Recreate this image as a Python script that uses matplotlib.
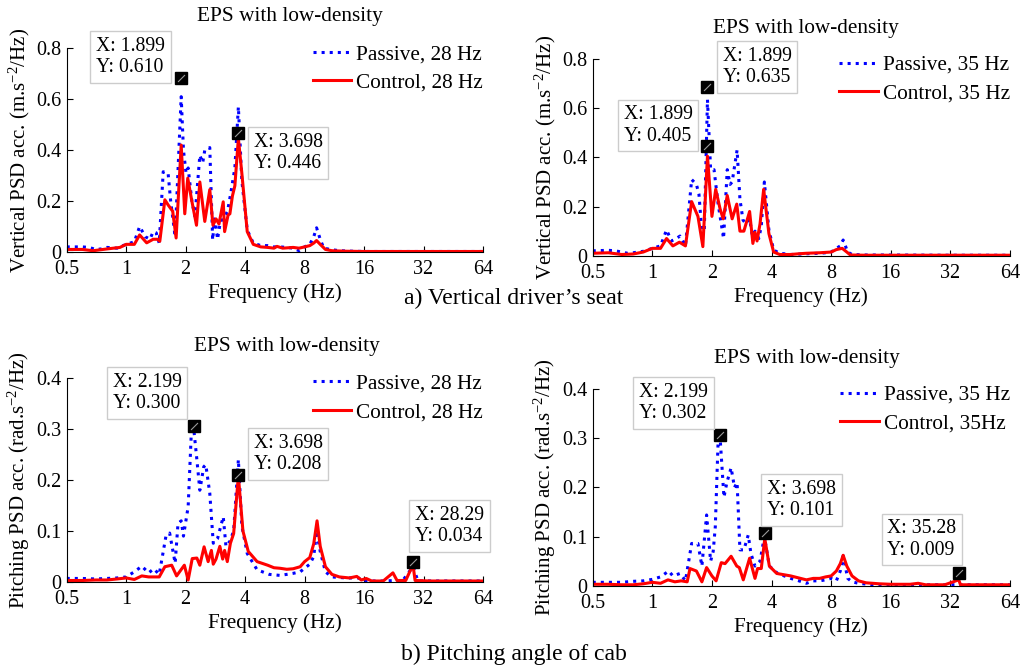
import matplotlib
matplotlib.use("Agg")
import matplotlib.pyplot as plt

plt.rcParams['font.family'] = ['Liberation Serif', 'DejaVu Serif']
plt.rcParams['mathtext.fontset'] = 'custom'
plt.rcParams['mathtext.rm'] = 'Liberation Serif'
plt.rcParams['mathtext.default'] = 'regular'

# ---- data ----
# a) vertical driver's seat, 28 Hz
f_tl_p = [0.5, 0.55, 0.6, 0.65, 0.7, 0.75, 0.8, 0.9, 1.0, 1.1, 1.17, 1.25, 1.32, 1.37, 1.42, 1.47,
          1.54, 1.63, 1.68, 1.77, 1.899, 1.95, 2.01, 2.06, 2.15, 2.23, 2.36, 2.44, 2.5, 2.65, 2.74,
          2.8, 2.84, 2.9, 3.0, 3.1, 3.26, 3.4, 3.55, 3.698, 3.85, 4.1, 4.4, 4.8, 5.2, 5.6, 6.0, 6.5,
          7.0, 7.5, 8.0, 8.5, 8.9, 9.2, 9.6, 10.0, 10.8, 12, 14, 16, 20, 28, 40, 64]
v_tl_p = [0.02, 0.02, 0.02, 0.018, 0.01, 0.012, 0.018, 0.015, 0.03, 0.04, 0.10, 0.06, 0.05, 0.08,
          0.075, 0.035, 0.315, 0.31, 0.20, 0.06, 0.61, 0.40, 0.31, 0.33, 0.20, 0.14, 0.38, 0.35, 0.40,
          0.41, 0.047, 0.13, 0.11, 0.05, 0.12, 0.13, 0.16, 0.24, 0.33, 0.57, 0.28, 0.086, 0.035, 0.025,
          0.025, 0.02, 0.02, 0.018, 0.015, 0.005, 0.02, 0.03, 0.06, 0.095, 0.05, 0.015, 0.01, 0.005,
          0.003, 0.002, 0.002, 0.002, 0.002, 0.002]
f_tl_c = [0.5, 0.6, 0.68, 0.8, 0.93, 1.0, 1.1, 1.17, 1.27, 1.37, 1.44, 1.48, 1.57, 1.63, 1.72, 1.79,
          1.899, 1.98, 2.05, 2.15, 2.27, 2.36, 2.5, 2.65, 2.75, 2.85, 2.95, 3.1, 3.15, 3.28, 3.35, 3.45,
          3.55, 3.698, 3.85, 4.1, 4.4, 4.8, 5.2, 5.6, 5.8, 6.2, 7.0, 7.5, 8.0, 8.5, 8.9, 9.2, 9.6, 10.2,
          11, 13, 16, 32, 64]
v_tl_c = [0.01, 0.01, 0.005, 0.012, 0.018, 0.03, 0.03, 0.067, 0.036, 0.05, 0.05, 0.042, 0.205, 0.185,
          0.16, 0.055, 0.42, 0.15, 0.29, 0.2, 0.105, 0.275, 0.12, 0.245, 0.105, 0.13, 0.11, 0.197, 0.08,
          0.145, 0.15, 0.22, 0.26, 0.446, 0.31, 0.08, 0.03, 0.02, 0.018, 0.015, 0.022, 0.015, 0.018,
          0.015, 0.02, 0.025, 0.035, 0.045, 0.03, 0.01, 0.005, 0.003, 0.002, 0.002, 0.002]

# a) vertical driver's seat, 35 Hz
f_tr_p = [0.5, 0.6, 0.65, 0.7, 0.75, 0.8, 0.9, 1.0, 1.1, 1.18, 1.25, 1.32, 1.38, 1.47, 1.58, 1.67,
          1.72, 1.77, 1.83, 1.899, 1.97, 2.05, 2.15, 2.29, 2.39, 2.47, 2.53, 2.68, 2.77, 2.87, 2.97,
          3.1, 3.2, 3.3, 3.45, 3.55, 3.68, 3.88, 4.1, 4.4, 5, 6, 7, 7.5, 8, 8.5, 8.9, 9.2, 9.7, 10.2,
          12, 16, 32, 64]
v_tr_p = [0.02, 0.022, 0.02, 0.015, 0.01, 0.012, 0.018, 0.03, 0.04, 0.105, 0.06, 0.07, 0.08, 0.04,
          0.31, 0.29, 0.25, 0.12, 0.10, 0.635, 0.35, 0.35, 0.21, 0.07, 0.35, 0.29, 0.30, 0.43, 0.23,
          0.145, 0.13, 0.15, 0.08, 0.10, 0.07, 0.12, 0.30, 0.105, 0.023, 0.01, 0.005, 0.008, 0.01,
          0.012, 0.015, 0.03, 0.04, 0.064, 0.015, 0.005, 0.003, 0.003, 0.002, 0.002]
f_tr_c = [0.5, 0.6, 0.7, 0.8, 0.9, 1.0, 1.1, 1.18, 1.27, 1.37, 1.47, 1.58, 1.7, 1.8, 1.899, 2.0,
          2.09, 2.2, 2.28, 2.39, 2.53, 2.67, 2.77, 2.9, 3.1, 3.22, 3.3, 3.38, 3.5, 3.65, 3.88, 4.1,
          4.4, 5, 5.5, 6, 7, 8, 8.5, 9.1, 9.6, 10, 12, 16, 64]
v_tr_c = [0.01, 0.012, 0.005, 0.007, 0.015, 0.03, 0.03, 0.07, 0.04, 0.055, 0.04, 0.22, 0.16, 0.037,
          0.405, 0.16, 0.27, 0.19, 0.15, 0.245, 0.15, 0.21, 0.1, 0.1, 0.18, 0.05, 0.095, 0.06, 0.13,
          0.27, 0.09, 0.015, 0.005, 0.005, 0.008, 0.01, 0.012, 0.015, 0.025, 0.03, 0.015, 0.003,
          0.002, 0.002, 0.002]

# b) pitching angle of cab, 28 Hz
f_bl_p = [0.5, 0.6, 0.7, 0.8, 0.9, 1.0, 1.1, 1.2, 1.3, 1.38, 1.47, 1.59, 1.66, 1.77, 1.83, 1.9, 1.95,
          2.06, 2.14, 2.199, 2.28, 2.36, 2.47, 2.53, 2.65, 2.76, 2.9, 3.1, 3.2, 3.35, 3.5, 3.698, 3.85,
          4.1, 4.6, 5.3, 6.0, 6.5, 7.0, 7.6, 8.0, 8.5, 8.9, 9.2, 9.6, 10.2, 11, 13, 15, 16, 20, 23,
          25, 28.29, 30, 40, 64]
v_bl_p = [0.007, 0.007, 0.006, 0.007, 0.008, 0.01, 0.02, 0.031, 0.018, 0.026, 0.015, 0.09, 0.096,
          0.037, 0.115, 0.12, 0.09, 0.148, 0.298, 0.30, 0.24, 0.18, 0.226, 0.23, 0.174, 0.076, 0.085,
          0.128, 0.07, 0.08, 0.1, 0.24, 0.11, 0.056, 0.024, 0.015, 0.013, 0.015, 0.017, 0.02, 0.027,
          0.035, 0.05, 0.10, 0.06, 0.02, 0.01, 0.008, 0.008, 0.002, 0.002, 0.003, 0.002, 0.03, 0.002,
          0.002, 0.002]
f_bl_c = [0.5, 0.6, 0.7, 0.8, 0.9, 1.0, 1.1, 1.2, 1.3, 1.4, 1.47, 1.57, 1.7, 1.8, 1.97, 2.06, 2.16,
          2.28, 2.36, 2.48, 2.6, 2.7, 2.76, 2.85, 2.98, 3.08, 3.15, 3.25, 3.37, 3.5, 3.698, 3.9, 4.15,
          4.6, 5.2, 5.6, 6.0, 6.5, 7.0, 7.6, 8.0, 8.5, 8.9, 9.25, 9.6, 10.2, 11, 12, 13.5, 14.7, 15.5,
          16.4, 17.5, 20, 22.4, 23.5, 26, 28.29, 29, 35, 64]
v_bl_c = [0.003, 0.003, 0.004, 0.004, 0.006, 0.008, 0.005, 0.012, 0.01, 0.01, 0.01, 0.03, 0.033,
          0.012, 0.033, 0.004, 0.046, 0.047, 0.033, 0.069, 0.04, 0.062, 0.035, 0.045, 0.07, 0.045,
          0.062, 0.04, 0.076, 0.095, 0.208, 0.1, 0.06, 0.04, 0.033, 0.028, 0.027, 0.025, 0.026, 0.03,
          0.04, 0.048, 0.075, 0.12, 0.07, 0.03, 0.015, 0.01, 0.008, 0.011, 0.004, 0.007, 0.002, 0.002,
          0.018, 0.003, 0.003, 0.034, 0.003, 0.002, 0.002]

# b) pitching angle of cab, 35 Hz
f_br_p = [0.5, 0.6, 0.7, 0.8, 0.9, 1.0, 1.1, 1.21, 1.27, 1.38, 1.47, 1.58, 1.7, 1.78, 1.88, 1.97,
          2.03, 2.08, 2.15, 2.199, 2.3, 2.38, 2.5, 2.6, 2.68, 2.77, 2.9, 3.05, 3.15, 3.3, 3.5, 3.68,
          3.9, 4.3, 5.0, 5.5, 6.0, 6.5, 7.0, 7.5, 8.0, 8.5, 8.9, 9.2, 9.7, 10.2, 11, 13, 64]
v_br_p = [0.007, 0.007, 0.007, 0.009, 0.01, 0.013, 0.018, 0.03, 0.02, 0.025, 0.01, 0.086, 0.086,
          0.04, 0.144, 0.05, 0.07, 0.12, 0.296, 0.302, 0.18, 0.21, 0.24, 0.2, 0.21, 0.073, 0.073,
          0.103, 0.065, 0.04, 0.05, 0.1, 0.04, 0.025, 0.015, 0.01, 0.005, 0.01, 0.01, 0.012, 0.015,
          0.01, 0.03, 0.061, 0.015, 0.008, 0.005, 0.002, 0.002]
f_br_c = [0.5, 0.6, 0.7, 0.8, 0.9, 1.0, 1.1, 1.2, 1.3, 1.4, 1.5, 1.55, 1.67, 1.78, 1.88, 2.0, 2.1,
          2.23, 2.33, 2.5, 2.67, 2.75, 2.88, 3.1, 3.3, 3.4, 3.55, 3.698, 3.9, 4.25, 5.0, 6.0, 6.5, 7.0,
          7.5, 8.0, 8.5, 8.9, 9.2, 9.6, 10.2, 11, 12, 14, 16, 20, 22, 24, 30, 35.28, 36, 64]
v_br_c = [0.003, 0.003, 0.002, 0.002, 0.004, 0.007, 0.005, 0.012, 0.008, 0.01, 0.008, 0.035, 0.03,
          0.008, 0.037, 0.02, 0.01, 0.047, 0.045, 0.06, 0.04, 0.037, 0.012, 0.056, 0.015, 0.035,
          0.035, 0.096, 0.04, 0.025, 0.02, 0.012, 0.015, 0.015, 0.018, 0.02, 0.03, 0.045, 0.062, 0.04,
          0.02, 0.01, 0.006, 0.004, 0.003, 0.003, 0.005, 0.002, 0.002, 0.012, 0.002, 0.002]

# data tips: x, reported y, drawn marker height
tips_tl = [(1.899, 0.610, 0.682), (3.698, 0.446, 0.469)]
tips_tr = [(1.899, 0.635, 0.685), (1.899, 0.405, 0.447)]
tips_bl = [(2.199, 0.300, 0.305), (3.698, 0.208, 0.210), (28.29, 0.034, 0.040)]
tips_br = [(2.199, 0.302, 0.306), (3.698, 0.101, 0.1065), (35.28, 0.009, 0.025)]

x_ticks = [0.5, 1, 2, 4, 8, 16, 32, 64]
x_ticklabels = ["0.5", "1", "2", "4", "8", "16", "32", "64"]
y_ticks_vert = [0, 0.2, 0.4, 0.6, 0.8]
y_ticklabels_vert = ["0", "0.2", "0.4", "0.6", "0.8"]
y_ticks_pitch = [0, 0.1, 0.2, 0.3, 0.4]
y_ticklabels_pitch = ["0", "0.1", "0.2", "0.3", "0.4"]

W, H = 1029, 667
fig = plt.figure(figsize=(W / 100, H / 100), dpi=100)


def px(x, y):
    return x / W, 1 - y / H


def panel(rect, fp, vp, fc, vc, yt, ytl, ylabel, title_xy, labels, tips, boxes):
    ax = fig.add_axes(rect)
    ax.plot(fp, vp, color='#0000ff', ls=':', lw=2.2, label=labels[0])
    ax.plot(fc, vc, color='#ff0000', ls='-', lw=2.2, label=labels[1])
    ax.set_xscale('log', base=2)
    ax.set_xlim(0.5, 64)
    ax.set_ylim(yt[0], yt[-1])
    ax.set_xticks(x_ticks)
    ax.set_xticklabels(x_ticklabels)
    ax.minorticks_off()
    ax.set_yticks(yt)
    ax.set_yticklabels(ytl)
    ax.tick_params(direction='in', length=4, width=0.8, labelsize=14.5, pad=4)
    ax.tick_params(axis='x', pad=6)
    ax.spines['top'].set_visible(False)
    ax.spines['right'].set_visible(False)
    ax.set_xlabel('Frequency (Hz)', fontsize=15.3, labelpad=3)
    ax.set_ylabel(ylabel, fontsize=15, labelpad=3)
    ax.legend(loc='upper right', bbox_to_anchor=(1.0, 1.02), frameon=False, fontsize=15.3,
              handlelength=1.8, handletextpad=0.25, labelspacing=0.4, borderaxespad=0,
              borderpad=0)
    fig.text(*px(*title_xy), 'EPS with low-density', fontsize=15.3, ha='center', va='center')
    for (tx, ty, my), (bx, by) in zip(tips, boxes):
        ax.plot([tx], [my], marker='s', ms=8, color='black', ls='none', clip_on=False, zorder=5)
        ax.plot([tx], [my], marker=[(-1, -1), (1, 1)], ms=5, mec='#9a9a9a', mew=0.8,
                ls='none', clip_on=False, zorder=6)
        fig.text(*px(bx, by), 'X: %s\nY: %.3f' % (('%.3f' % tx) if tx < 10 else ('%.2f' % tx), ty),
                 fontsize=14.2, ha='center', va='center', multialignment='left', linespacing=1.15,
                 bbox=dict(boxstyle='square,pad=0.3', fc='white', ec='#cccccc', lw=1))
    return ax


panel([0.0648, 0.6222, 0.4046, 0.3054], f_tl_p, v_tl_p, f_tl_c, v_tl_c,
      y_ticks_vert, y_ticklabels_vert, 'Vertical PSD acc. (m.s$^{-2}$/Hz)', (290, 17),
      ['Passive, 28 Hz', 'Control, 28 Hz'], tips_tl, [(130.5, 57), (288, 153)])
panel([0.5760, 0.6166, 0.4055, 0.2949], f_tr_p, v_tr_p, f_tr_c, v_tr_c,
      y_ticks_vert, y_ticklabels_vert, 'Vertical PSD acc. (m.s$^{-2}$/Hz)', (806, 28),
      ['Passive, 35 Hz', 'Control, 35 Hz'], tips_tr, [(757, 67), (658, 125.5)])
panel([0.0648, 0.1274, 0.4046, 0.3058], f_bl_p, v_bl_p, f_bl_c, v_bl_c,
      y_ticks_pitch, y_ticklabels_pitch, 'Pitching PSD acc. (rad.s$^{-2}$/Hz)', (287, 346),
      ['Passive, 28 Hz', 'Control, 28 Hz'], tips_bl, [(147, 393), (288, 454), (449.5, 526)])
panel([0.5760, 0.1218, 0.4055, 0.2949], f_br_p, v_br_p, f_br_c, v_br_c,
      y_ticks_pitch, y_ticklabels_pitch, 'Pitching PSD acc. (rad.s$^{-2}$/Hz)', (807, 358),
      ['Passive, 35 Hz', 'Control, 35Hz'], tips_br, [(673.5, 403), (801.5, 500), (922, 539.5)])

fig.text(*px(514, 298), 'a) Vertical driver\u2019s seat', fontsize=17, ha='center', va='center')
fig.text(*px(514, 654), 'b) Pitching angle of cab', fontsize=17, ha='center', va='center')

fig.savefig('out.png', dpi=100)
